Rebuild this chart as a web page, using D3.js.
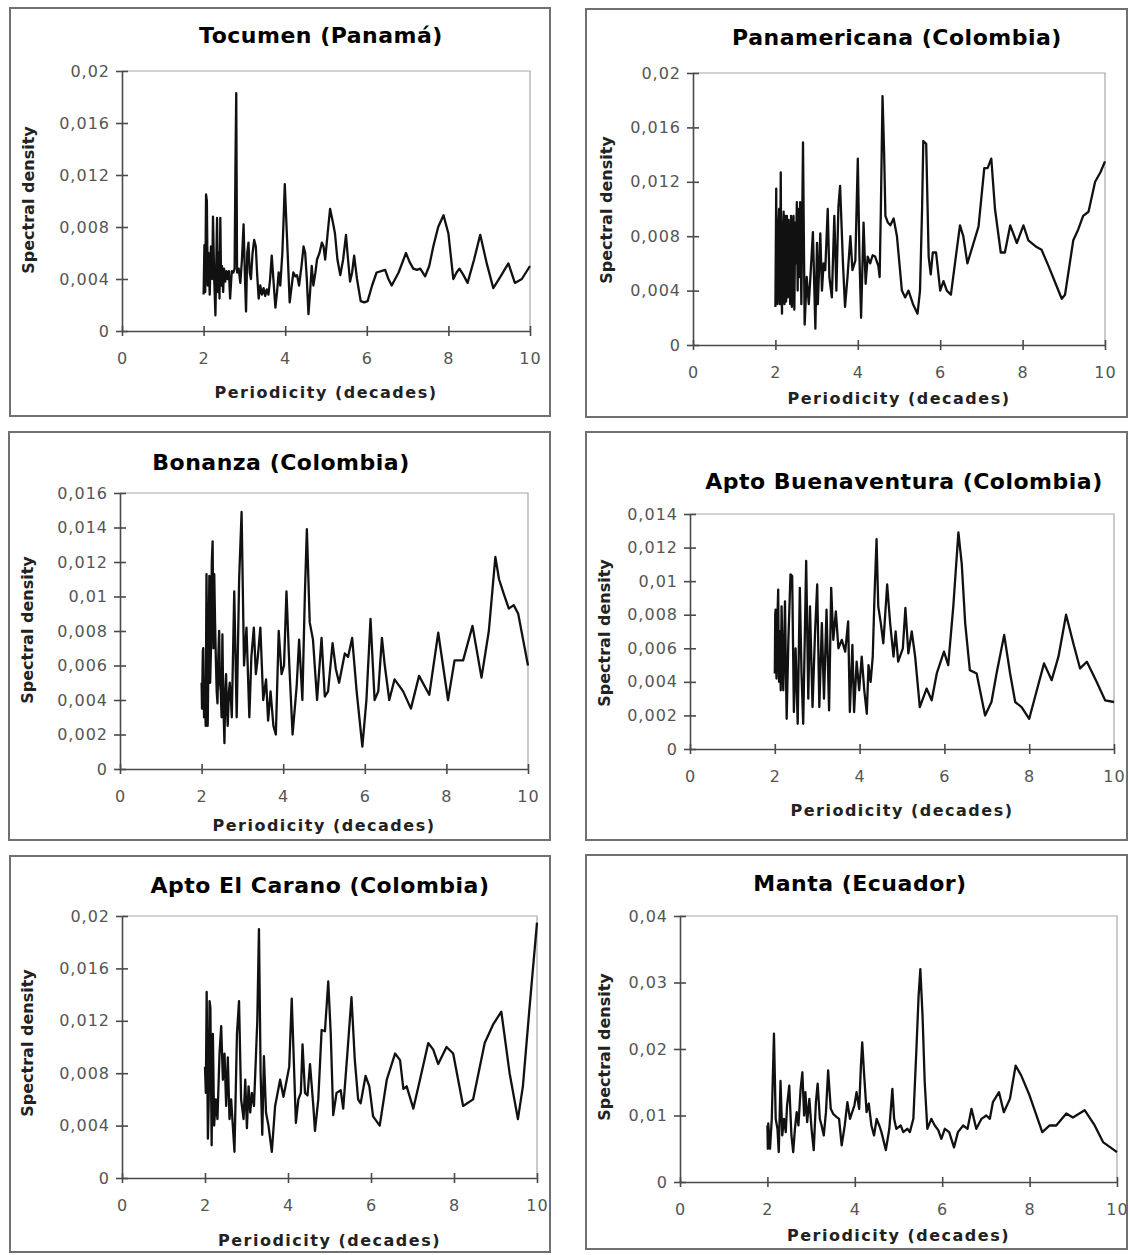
<!DOCTYPE html>
<html>
<head>
    <meta charset="utf-8">
    <title>Spectral density - six stations</title>
    <script src="https://d3js.org/d3.v7.min.js"></script>
    <style>
        body { margin: 0; background: #fff; }
        svg text { font-family: "DejaVu Sans", Verdana, sans-serif; }
    </style>
</head>
<body>
    <div id="chart"></div>

    <script>
        // station names (panel titles)
        const titles = ["Tocumen (Panamá)", "Panamericana (Colombia)", "Bonanza (Colombia)",
                        "Apto Buenaventura (Colombia)", "Apto El Carano (Colombia)", "Manta (Ecuador)"];

        const xTicks = [0, 2, 4, 6, 8, 10];
        const yTicks = [
            [0, 0.004, 0.008, 0.012, 0.016, 0.02],
            [0, 0.004, 0.008, 0.012, 0.016, 0.02],
            [0, 0.002, 0.004, 0.006, 0.008, 0.01, 0.012, 0.014, 0.016],
            [0, 0.002, 0.004, 0.006, 0.008, 0.01, 0.012, 0.014],
            [0, 0.004, 0.008, 0.012, 0.016, 0.02],
            [0, 0.01, 0.02, 0.03, 0.04]
        ];

        // [periodicity (decades), spectral density]
        const tocumen = [[2.00,0.0028],[2.02,0.0066],[2.04,0.0030],[2.06,0.0105],[2.08,0.0100],[2.10,0.0035],[2.12,0.0060],[2.15,0.0028],[2.18,0.0065],[2.21,0.0040],[2.23,0.0088],[2.26,0.0040],[2.29,0.0012],[2.31,0.0050],[2.33,0.0087],[2.35,0.0030],[2.37,0.0060],[2.39,0.0025],[2.41,0.0087],[2.43,0.0035],[2.45,0.0050],[2.48,0.0030],[2.50,0.0048],[2.53,0.0038],[2.56,0.0046],[2.59,0.0040],[2.62,0.0046],[2.65,0.0025],[2.69,0.0046],[2.73,0.0045],[2.76,0.0048],[2.78,0.0125],[2.80,0.0183],[2.82,0.0045],[2.86,0.0048],[2.90,0.0037],[2.94,0.0055],[2.98,0.0082],[3.01,0.0045],[3.04,0.0015],[3.07,0.0060],[3.10,0.0068],[3.13,0.0045],[3.16,0.0040],[3.20,0.0060],[3.24,0.0070],[3.28,0.0065],[3.31,0.0045],[3.35,0.0025],[3.39,0.0035],[3.43,0.0028],[3.47,0.0033],[3.51,0.0027],[3.55,0.0032],[3.59,0.0028],[3.63,0.0040],[3.67,0.0058],[3.71,0.0040],[3.76,0.0018],[3.80,0.0030],[3.84,0.0045],[3.88,0.0035],[3.93,0.0060],[3.96,0.0085],[3.99,0.0113],[4.02,0.0090],[4.06,0.0060],[4.11,0.0022],[4.16,0.0035],[4.20,0.0045],[4.25,0.0042],[4.29,0.0043],[4.34,0.0035],[4.40,0.0050],[4.45,0.0065],[4.49,0.0060],[4.53,0.0040],[4.57,0.0013],[4.61,0.0030],[4.65,0.0050],[4.69,0.0035],[4.74,0.0045],[4.78,0.0055],[4.84,0.0060],[4.90,0.0068],[4.94,0.0065],[4.98,0.0055],[5.04,0.0075],[5.10,0.0094],[5.16,0.0085],[5.22,0.0075],[5.28,0.0055],[5.35,0.0043],[5.42,0.0055],[5.49,0.0074],[5.54,0.0055],[5.59,0.0038],[5.64,0.0045],[5.69,0.0058],[5.76,0.0040],[5.85,0.0023],[5.94,0.0022],[6.02,0.0023],[6.13,0.0035],[6.24,0.0045],[6.35,0.0046],[6.45,0.0047],[6.53,0.0040],[6.61,0.0035],[6.78,0.0045],[6.96,0.0060],[7.05,0.0053],[7.14,0.0048],[7.23,0.0047],[7.31,0.0048],[7.43,0.0042],[7.53,0.0050],[7.63,0.0065],[7.75,0.0080],[7.88,0.0089],[8.00,0.0075],[8.12,0.0040],[8.20,0.0045],[8.27,0.0048],[8.37,0.0043],[8.47,0.0037],[8.63,0.0055],[8.78,0.0074],[8.94,0.0052],[9.10,0.0033],[9.28,0.0042],[9.47,0.0052],[9.63,0.0037],[9.80,0.0040],[10.0,0.0050]];

        const panamericana = [[2.00,0.0028],[2.02,0.0115],[2.03,0.0045],[2.05,0.0030],[2.07,0.0085],[2.09,0.0100],[2.10,0.0040],[2.11,0.0030],[2.13,0.0127],[2.14,0.0060],[2.16,0.0023],[2.18,0.0080],[2.20,0.0098],[2.21,0.0045],[2.22,0.0030],[2.24,0.0095],[2.25,0.0050],[2.26,0.0032],[2.28,0.0095],[2.29,0.0055],[2.30,0.0035],[2.32,0.0092],[2.34,0.0060],[2.36,0.0030],[2.38,0.0095],[2.39,0.0050],[2.40,0.0028],[2.42,0.0080],[2.44,0.0095],[2.45,0.0045],[2.46,0.0026],[2.48,0.0090],[2.50,0.0060],[2.52,0.0105],[2.54,0.0040],[2.56,0.0100],[2.58,0.0050],[2.60,0.0105],[2.63,0.0030],[2.67,0.0149],[2.71,0.0015],[2.76,0.0050],[2.81,0.0030],[2.85,0.0050],[2.91,0.0083],[2.97,0.0012],[3.01,0.0075],[3.03,0.0030],[3.09,0.0082],[3.13,0.0040],[3.17,0.0060],[3.21,0.0055],[3.27,0.0100],[3.31,0.0050],[3.37,0.0035],[3.43,0.0095],[3.48,0.0040],[3.53,0.0102],[3.57,0.0117],[3.64,0.0060],[3.69,0.0028],[3.75,0.0050],[3.82,0.0080],[3.87,0.0055],[3.94,0.0062],[4.00,0.0137],[4.04,0.0065],[4.08,0.0020],[4.14,0.0090],[4.19,0.0045],[4.24,0.0065],[4.30,0.0060],[4.36,0.0066],[4.42,0.0065],[4.50,0.0058],[4.53,0.0050],[4.56,0.0100],[4.60,0.0183],[4.64,0.0140],[4.67,0.0095],[4.73,0.0090],[4.79,0.0088],[4.87,0.0093],[4.95,0.0080],[5.01,0.0060],[5.07,0.0040],[5.15,0.0035],[5.23,0.0040],[5.34,0.0030],[5.45,0.0023],[5.51,0.0040],[5.56,0.0100],[5.59,0.0150],[5.66,0.0148],[5.72,0.0065],[5.77,0.0052],[5.82,0.0068],[5.90,0.0068],[6.00,0.0040],[6.08,0.0047],[6.16,0.0040],[6.26,0.0037],[6.38,0.0065],[6.48,0.0088],[6.56,0.0080],[6.66,0.0060],[6.81,0.0075],[6.93,0.0087],[7.07,0.0130],[7.15,0.0130],[7.24,0.0137],[7.33,0.0100],[7.47,0.0068],[7.57,0.0068],[7.70,0.0088],[7.86,0.0075],[8.02,0.0088],[8.14,0.0077],[8.34,0.0072],[8.46,0.0070],[8.63,0.0058],[8.83,0.0043],[8.95,0.0034],[9.03,0.0037],[9.23,0.0077],[9.35,0.0085],[9.47,0.0095],[9.60,0.0098],[9.76,0.0120],[9.89,0.0127],[10.0,0.0135]];

        const bonanza = [[2.00,0.0050],[2.01,0.0035],[2.03,0.0068],[2.04,0.0070],[2.06,0.0030],[2.08,0.0045],[2.10,0.0025],[2.12,0.0113],[2.15,0.0025],[2.19,0.0112],[2.21,0.0050],[2.23,0.0070],[2.25,0.0120],[2.27,0.0132],[2.29,0.0070],[2.31,0.0113],[2.33,0.0085],[2.35,0.0063],[2.37,0.0045],[2.39,0.0038],[2.41,0.0065],[2.43,0.0080],[2.45,0.0050],[2.47,0.0045],[2.49,0.0030],[2.51,0.0078],[2.53,0.0040],[2.56,0.0015],[2.58,0.0045],[2.60,0.0055],[2.62,0.0035],[2.64,0.0025],[2.67,0.0045],[2.69,0.0050],[2.72,0.0040],[2.74,0.0030],[2.80,0.0103],[2.86,0.0030],[2.92,0.0110],[2.98,0.0149],[3.04,0.0060],[3.10,0.0082],[3.17,0.0030],[3.22,0.0065],[3.28,0.0082],[3.33,0.0055],[3.37,0.0063],[3.44,0.0082],[3.51,0.0040],[3.58,0.0052],[3.63,0.0028],[3.69,0.0045],[3.76,0.0025],[3.82,0.0020],[3.89,0.0080],[3.96,0.0055],[4.02,0.0060],[4.08,0.0103],[4.15,0.0060],[4.23,0.0020],[4.33,0.0048],[4.39,0.0075],[4.47,0.0040],[4.53,0.0100],[4.58,0.0139],[4.65,0.0085],[4.73,0.0075],[4.83,0.0040],[4.94,0.0076],[5.02,0.0042],[5.10,0.0045],[5.21,0.0073],[5.29,0.0058],[5.37,0.0050],[5.51,0.0067],[5.59,0.0065],[5.69,0.0076],[5.80,0.0045],[5.94,0.0013],[6.04,0.0040],[6.14,0.0087],[6.24,0.0040],[6.33,0.0045],[6.42,0.0076],[6.49,0.0060],[6.60,0.0040],[6.73,0.0052],[6.94,0.0045],[7.13,0.0035],[7.33,0.0054],[7.58,0.0043],[7.80,0.0079],[8.04,0.0040],[8.20,0.0063],[8.41,0.0063],[8.64,0.0083],[8.86,0.0053],[9.04,0.0080],[9.20,0.0123],[9.29,0.0110],[9.40,0.0102],[9.53,0.0093],[9.65,0.0095],[9.76,0.0090],[9.88,0.0075],[10.0,0.0060]];

        const buenaventura = [[2.00,0.0045],[2.01,0.0080],[2.02,0.0083],[2.03,0.0050],[2.04,0.0042],[2.06,0.0075],[2.08,0.0095],[2.09,0.0060],[2.10,0.0040],[2.12,0.0070],[2.14,0.0035],[2.16,0.0085],[2.18,0.0055],[2.20,0.0035],[2.22,0.0060],[2.24,0.0088],[2.26,0.0050],[2.28,0.0018],[2.32,0.0065],[2.37,0.0104],[2.41,0.0103],[2.45,0.0022],[2.49,0.0060],[2.54,0.0015],[2.59,0.0096],[2.63,0.0045],[2.67,0.0015],[2.74,0.0112],[2.79,0.0030],[2.83,0.0085],[2.89,0.0025],[2.95,0.0070],[3.00,0.0098],[3.05,0.0025],[3.11,0.0075],[3.16,0.0030],[3.22,0.0083],[3.28,0.0023],[3.33,0.0096],[3.38,0.0065],[3.44,0.0082],[3.50,0.0060],[3.58,0.0065],[3.66,0.0058],[3.73,0.0076],[3.77,0.0022],[3.83,0.0062],[3.87,0.0022],[3.93,0.0052],[3.99,0.0035],[4.05,0.0055],[4.11,0.0035],[4.17,0.0021],[4.21,0.0050],[4.26,0.0040],[4.31,0.0055],[4.35,0.0090],[4.40,0.0125],[4.44,0.0085],[4.50,0.0075],[4.56,0.0063],[4.65,0.0098],[4.72,0.0075],[4.80,0.0055],[4.85,0.0070],[4.91,0.0052],[5.02,0.0060],[5.08,0.0084],[5.15,0.0057],[5.23,0.0070],[5.31,0.0055],[5.42,0.0025],[5.58,0.0036],[5.70,0.0029],[5.82,0.0045],[5.99,0.0058],[6.09,0.0050],[6.21,0.0085],[6.33,0.0129],[6.41,0.0110],[6.49,0.0075],[6.60,0.0047],[6.76,0.0045],[6.96,0.0020],[7.11,0.0028],[7.23,0.0045],[7.41,0.0068],[7.55,0.0045],[7.67,0.0028],[7.82,0.0025],[8.00,0.0018],[8.18,0.0035],[8.35,0.0051],[8.53,0.0041],[8.69,0.0055],[8.87,0.0080],[9.04,0.0063],[9.20,0.0048],[9.36,0.0052],[9.59,0.0040],[9.79,0.0029],[10.0,0.0028]];

        const elCarano = [[2.00,0.0085],[2.02,0.0065],[2.04,0.0142],[2.07,0.0030],[2.09,0.0060],[2.11,0.0135],[2.13,0.0130],[2.16,0.0025],[2.19,0.0110],[2.22,0.0040],[2.26,0.0060],[2.30,0.0045],[2.35,0.0095],[2.39,0.0116],[2.43,0.0075],[2.47,0.0095],[2.51,0.0055],[2.55,0.0092],[2.59,0.0045],[2.63,0.0060],[2.67,0.0040],[2.71,0.0020],[2.77,0.0110],[2.82,0.0135],[2.87,0.0060],[2.93,0.0045],[2.97,0.0075],[3.01,0.0038],[3.05,0.0070],[3.09,0.0050],[3.13,0.0065],[3.18,0.0055],[3.23,0.0095],[3.26,0.0120],[3.30,0.0190],[3.34,0.0080],[3.38,0.0033],[3.42,0.0093],[3.47,0.0050],[3.53,0.0040],[3.61,0.0020],[3.69,0.0055],[3.81,0.0075],[3.89,0.0062],[3.97,0.0075],[4.03,0.0085],[4.09,0.0137],[4.15,0.0080],[4.19,0.0042],[4.25,0.0060],[4.31,0.0065],[4.35,0.0102],[4.41,0.0065],[4.47,0.0063],[4.53,0.0087],[4.61,0.0055],[4.65,0.0036],[4.73,0.0060],[4.81,0.0113],[4.89,0.0112],[4.97,0.0150],[5.03,0.0110],[5.09,0.0048],[5.17,0.0065],[5.27,0.0067],[5.33,0.0053],[5.43,0.0095],[5.53,0.0138],[5.61,0.0090],[5.69,0.0060],[5.75,0.0057],[5.87,0.0078],[5.96,0.0070],[6.05,0.0047],[6.21,0.0040],[6.38,0.0075],[6.58,0.0095],[6.70,0.0090],[6.78,0.0068],[6.86,0.0070],[7.02,0.0053],[7.18,0.0075],[7.38,0.0103],[7.50,0.0098],[7.62,0.0087],[7.82,0.0100],[7.98,0.0095],[8.22,0.0055],[8.46,0.0060],[8.74,0.0103],[8.94,0.0117],[9.14,0.0127],[9.34,0.0080],[9.54,0.0045],[9.66,0.0070],[9.82,0.0130],[10.0,0.0195]];

        const manta = [[2.00,0.0085],[2.01,0.0050],[2.02,0.0088],[2.06,0.0050],[2.10,0.0095],[2.15,0.0223],[2.19,0.0095],[2.23,0.0080],[2.26,0.0045],[2.30,0.0152],[2.34,0.0070],[2.38,0.0095],[2.42,0.0075],[2.45,0.0115],[2.50,0.0145],[2.55,0.0070],[2.59,0.0045],[2.63,0.0080],[2.67,0.0105],[2.71,0.0085],[2.76,0.0140],[2.80,0.0165],[2.84,0.0100],[2.87,0.0135],[2.91,0.0090],[2.96,0.0125],[3.01,0.0080],[3.06,0.0048],[3.11,0.0120],[3.15,0.0148],[3.20,0.0095],[3.24,0.0085],[3.29,0.0070],[3.34,0.0105],[3.39,0.0168],[3.45,0.0110],[3.51,0.0102],[3.58,0.0098],[3.64,0.0095],[3.70,0.0055],[3.77,0.0085],[3.83,0.0120],[3.89,0.0095],[3.94,0.0105],[3.99,0.0115],[4.04,0.0135],[4.10,0.0110],[4.14,0.0175],[4.17,0.0210],[4.21,0.0165],[4.27,0.0105],[4.32,0.0118],[4.38,0.0085],[4.44,0.0070],[4.50,0.0095],[4.56,0.0085],[4.61,0.0075],[4.71,0.0048],[4.79,0.0080],[4.86,0.0140],[4.90,0.0095],[4.95,0.0080],[5.05,0.0085],[5.11,0.0075],[5.20,0.0080],[5.26,0.0075],[5.34,0.0095],[5.41,0.0200],[5.46,0.0280],[5.50,0.0320],[5.55,0.0250],[5.60,0.0150],[5.66,0.0080],[5.75,0.0095],[5.83,0.0085],[5.91,0.0078],[5.98,0.0065],[6.06,0.0080],[6.16,0.0075],[6.27,0.0052],[6.36,0.0075],[6.48,0.0085],[6.58,0.0080],[6.67,0.0110],[6.78,0.0080],[6.90,0.0095],[7.01,0.0100],[7.09,0.0095],[7.16,0.0120],[7.30,0.0135],[7.41,0.0105],[7.55,0.0125],[7.68,0.0175],[7.81,0.0160],[8.00,0.0130],[8.29,0.0075],[8.46,0.0085],[8.61,0.0085],[8.84,0.0103],[8.99,0.0097],[9.26,0.0108],[9.49,0.0085],[9.68,0.0060],[10.0,0.0045]];

        const series = [tocumen, panamericana, bonanza, buenaventura, elCarano, manta];

        // page layout of each panel (box, plot area, title and axis label anchors)
        const panels = [
            {box: [10, 8, 550, 416],    plot: [122, 530, 71, 331],    title: [321, 35],  ylab: [28, 200],  xlabY: 392},
            {box: [586, 9, 1127, 417],  plot: [693, 1105, 73, 345],   title: [897, 37],  ylab: [606, 210], xlabY: 398},
            {box: [9, 432, 550, 840],   plot: [120, 528, 493, 769],   title: [281, 462], ylab: [27, 630],  xlabY: 825},
            {box: [586, 432, 1127, 840],plot: [690, 1114, 514, 749],  title: [904, 481], ylab: [604, 633], xlabY: 810},
            {box: [10, 856, 550, 1252], plot: [122, 537, 916, 1178],  title: [320, 885], ylab: [27, 1043], xlabY: 1240},
            {box: [586, 855, 1127, 1249],plot: [680, 1117, 916, 1182],title: [860, 883], ylab: [604, 1047], xlabY: 1235}
        ];

        const comma = d3.formatLocale({decimal: ",", thousands: ".", grouping: [3], currency: ["", ""]});
        const fmtY = comma.format(".3~f");

        const svg = d3.select("#chart").append("svg")
            .attr("width", 1130)
            .attr("height", 1255);

        panels.forEach((p, i) => {
            const [l, r, t, b] = p.plot;
            const g = svg.append("g");

            g.append("rect")
                .attr("x", p.box[0]).attr("y", p.box[1])
                .attr("width", p.box[2] - p.box[0]).attr("height", p.box[3] - p.box[1])
                .attr("fill", "none").attr("stroke", "#707070").attr("stroke-width", 2);

            const x = d3.scaleLinear().domain([0, 10]).range([l, r]);
            const yt = yTicks[i];
            const y = d3.scaleLinear().domain([0, yt[yt.length - 1]]).range([b, t]);

            // light frame on top / right of plot area
            g.append("path")
                .attr("d", `M${l},${t}H${r}V${b}`)
                .attr("fill", "none").attr("stroke", "#a8a8a8").attr("stroke-width", 1.2);

            const yAxis = g.append("g")
                .attr("transform", `translate(${l},0)`)
                .call(d3.axisLeft(y).tickValues(yt).tickFormat(fmtY).tickSize(6).tickPadding(6).tickSizeOuter(0));
            yAxis.selectAll(".tick line").attr("x1", 6);

            const xAxis = g.append("g")
                .attr("transform", `translate(0,${b})`)
                .call(d3.axisBottom(x).tickValues(xTicks).tickFormat(d3.format("d")).tickSize(5).tickPadding(17).tickSizeOuter(0));
            xAxis.selectAll(".tick line").attr("y1", -5);

            g.selectAll(".domain, .tick line").attr("stroke", "#4a4a4a").attr("stroke-width", 1.6);
            g.selectAll(".tick text")
                .attr("fill", "#555")
                .style("font-size", "16px")
                .style("letter-spacing", "1px");

            g.append("path")
                .datum(series[i])
                .attr("fill", "none")
                .attr("stroke", "#111")
                .attr("stroke-width", 2.3)
                .attr("stroke-linejoin", "round")
                .attr("d", d3.line().x(d => x(d[0])).y(d => y(d[1])));

            g.append("text")
                .attr("x", p.title[0]).attr("y", p.title[1]).attr("dy", "0.36em")
                .attr("text-anchor", "middle")
                .style("font-size", "22px").style("font-weight", "bold")
                .style("letter-spacing", "0.5px")
                .text(titles[i]);

            g.append("text")
                .attr("x", (l + r) / 2).attr("y", p.xlabY).attr("dy", "0.36em")
                .attr("text-anchor", "middle")
                .style("font-size", "16px").style("font-weight", "bold")
                .style("letter-spacing", "1.5px")
                .attr("fill", "#222")
                .text("Periodicity (decades)");

            g.append("text")
                .attr("transform", `translate(${p.ylab[0]},${p.ylab[1]}) rotate(-90)`)
                .attr("dy", "0.36em")
                .attr("text-anchor", "middle")
                .style("font-size", "16px").style("font-weight", "bold")
                .attr("fill", "#222")
                .text("Spectral density");
        });
    </script>
</body>
</html>
